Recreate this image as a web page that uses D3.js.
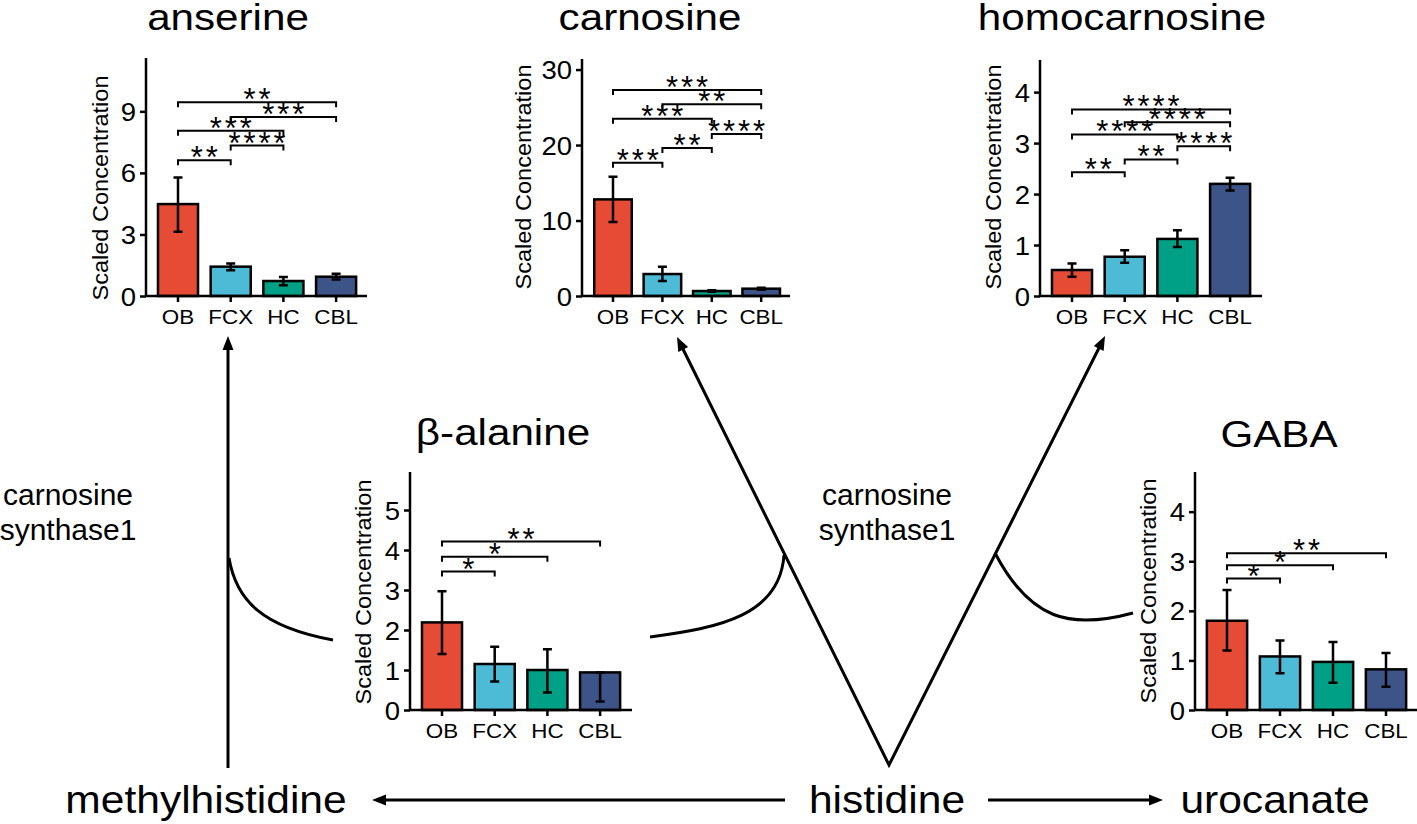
<!DOCTYPE html>
<html><head><meta charset="utf-8">
<script src="https://cdn.jsdelivr.net/npm/d3@7"></script>
<style>
body{margin:0;background:#fff}
svg{display:block}
text{font-family:"Liberation Sans",Arial,Helvetica,sans-serif;fill:#000}
</style>
</head><body>
<svg id="chart" width="1417" height="824"></svg>
<script>
// ---------------- DATA ----------------
const categories = ["OB", "FCX", "HC", "CBL"];
const barColors = ["#E64B35", "#4DBBD5", "#00A087", "#3C5488"];

const anserineMean = [4.48, 1.43, 0.73, 0.94];
const anserineLow  = [3.13, 1.25, 0.53, 0.80];
const anserineHigh = [5.78, 1.59, 0.93, 1.08];
const anserineTicks = [0, 3, 6, 9];
const anserineSig = [["OB","FCX",6.62,"**"],["FCX","HC",7.33,"****"],["OB","HC",8.06,"***"],["FCX","CBL",8.73,"***"],["OB","CBL",9.44,"**"]];

const carnosineMean = [12.8, 2.91, 0.66, 0.97];
const carnosineLow  = [9.8, 1.99, 0.57, 0.82];
const carnosineHigh = [15.8, 3.89, 0.75, 1.1];
const carnosineTicks = [0, 10, 20, 30];
const carnosineSig = [["OB","FCX",17.66,"***"],["FCX","HC",19.6,"**"],["HC","CBL",21.46,"****"],["OB","HC",23.5,"***"],["FCX","CBL",25.4,"**"],["OB","CBL",27.3,"***"]];

const homocarnosineMean = [0.51, 0.77, 1.12, 2.2];
const homocarnosineLow  = [0.38, 0.65, 0.96, 2.07];
const homocarnosineHigh = [0.64, 0.9, 1.29, 2.32];
const homocarnosineTicks = [0, 1, 2, 3, 4];
const homocarnosineSig = [["OB","FCX",2.43,"**"],["FCX","HC",2.68,"**"],["HC","CBL",2.94,"****"],["OB","HC",3.17,"****"],["FCX","CBL",3.41,"****"],["OB","CBL",3.66,"****"]];

const betaAlanineMean = [2.19, 1.15, 1.0, 0.94];
const betaAlanineLow  = [1.4, 0.71, 0.44, 0.21];
const betaAlanineHigh = [2.97, 1.58, 1.52, 0.94];
const betaAlanineTicks = [0, 1, 2, 3, 4, 5];
const betaAlanineSig = [["OB","FCX",3.46,"*"],["OB","HC",3.83,"*"],["OB","CBL",4.21,"**"]];

const gabaMean = [1.8, 1.08, 0.97, 0.82];
const gabaLow  = [1.2, 0.74, 0.55, 0.47];
const gabaHigh = [2.42, 1.4, 1.37, 1.15];
const gabaTicks = [0, 1, 2, 3, 4];
const gabaSig = [["OB","FCX",2.65,"*"],["OB","HC",2.92,"*"],["OB","CBL",3.16,"**"]];

const yAxisLabel = "Scaled Concentration";
const enzymeLabel = ["carnosine", "synthase1"];
const metaboliteLabels = ["methylhistidine", "histidine", "urocanate"];

// ---------------- LAYOUT ----------------
const panels = [
  {title:"anserine", mean:anserineMean, low:anserineLow, high:anserineHigh, ticks:anserineTicks, sig:anserineSig,
   ax:146, axEnd:367, yTop:58, yBase:296, max:11.6, c0:178, step:52.7, tx:228, ty:30, lx:108, ly:188},
  {title:"carnosine", mean:carnosineMean, low:carnosineLow, high:carnosineHigh, ticks:carnosineTicks, sig:carnosineSig,
   ax:582, axEnd:790, yTop:59, yBase:296, max:31.4, c0:613, step:49.4, tx:650, ty:30, lx:531, ly:177},
  {title:"homocarnosine", mean:homocarnosineMean, low:homocarnosineLow, high:homocarnosineHigh, ticks:homocarnosineTicks, sig:homocarnosineSig,
   ax:1040, axEnd:1262, yTop:60, yBase:296, max:4.63, c0:1072, step:52.7, tx:1122, ty:30, lx:1001, ly:177},
  {title:"\u03B2-alanine", mean:betaAlanineMean, low:betaAlanineLow, high:betaAlanineHigh, ticks:betaAlanineTicks, sig:betaAlanineSig,
   ax:410, axEnd:632, yTop:472, yBase:710, max:5.95, c0:442, step:52.7, tx:503, ty:445, lx:371, ly:592},
  {title:"GABA", mean:gabaMean, low:gabaLow, high:gabaHigh, ticks:gabaTicks, sig:gabaSig,
   ax:1195, axEnd:1417, yTop:472, yBase:710, max:4.8, c0:1227, step:53, tx:1279, ty:447, lx:1156, ly:591}
];

const svg = d3.select("#chart");

function txt(g, x, y, s, size, sx, anchor) {
  return g.append("text")
    .attr("transform", `translate(${x},${y}) scale(${sx},1)`)
    .attr("text-anchor", anchor || "middle")
    .attr("font-size", size)
    .text(s);
}

// ---------------- PATHWAY ----------------
const path = svg.append("g").attr("fill", "none").attr("stroke", "#000").attr("stroke-width", 3);

function arrowHead(g, fromX, fromY, tipX, tipY, len, half) {
  const dx = tipX - fromX, dy = tipY - fromY, L = Math.hypot(dx, dy);
  const ux = dx / L, uy = dy / L;
  const bx = tipX - ux * len, by = tipY - uy * len;
  g.append("path")
    .attr("d", `M${tipX},${tipY}L${bx - uy * half},${by + ux * half}L${bx + uy * half},${by - ux * half}Z`)
    .attr("fill", "#000").attr("stroke", "none");
  return [tipX - ux * (len - 2), tipY - uy * (len - 2)];
}
function arrow(g, x1, y1, x2, y2) {
  const e = arrowHead(g, x1, y1, x2, y2, 14, 5.5);
  g.append("path").attr("d", `M${x1},${y1}L${e[0]},${e[1]}`);
}
arrow(path, 228, 768, 228, 336);
arrow(path, 785, 800, 372, 800);
arrow(path, 988, 800, 1163, 800);
{
  const a = arrowHead(path, 889, 765, 677, 337, 14, 5.5);
  const b = arrowHead(path, 889, 765, 1105, 336, 14, 5.5);
  path.append("path").attr("d", `M${a[0]},${a[1]}L889,765L${b[0]},${b[1]}`).attr("stroke-linejoin", "miter");
}
path.append("path").attr("d", "M229,558C236,600 262,627 333,640");
path.append("path").attr("d", "M650,637C720,628 780,615 784,555");
path.append("path").attr("d", "M995,553C1030,620 1070,630 1133,613");

const labels = svg.append("g");
txt(labels, 68, 505, enzymeLabel[0], 30, 1, "middle");
txt(labels, 68, 540, enzymeLabel[1], 30, 1, "middle");
txt(labels, 887, 505, enzymeLabel[0], 30, 1, "middle");
txt(labels, 887, 540, enzymeLabel[1], 30, 1, "middle");
txt(labels, 206, 813, metaboliteLabels[0], 38, 1.12, "middle");
txt(labels, 887, 813, metaboliteLabels[1], 38, 1.12, "middle");
txt(labels, 1275, 813, metaboliteLabels[2], 38, 1.12, "middle");

// ---------------- PANELS ----------------
panels.forEach(p => {
  const g = svg.append("g");
  const x = d3.scaleBand().domain(categories)
    .range([p.c0 - p.step / 2, p.c0 + 3.5 * p.step])
    .paddingInner(0.24).paddingOuter(0.12);
  const y = d3.scaleLinear().domain([0, p.max]).range([p.yBase, p.yTop]);
  const col = d3.scaleOrdinal().domain(categories).range(barColors);
  const cx = c => x(c) + x.bandwidth() / 2;

  txt(g, p.tx, p.ty, p.title, 37, 1.14, "middle");

  // bars
  g.selectAll("rect.bar").data(categories).join("rect")
    .attr("x", c => x(c)).attr("width", x.bandwidth())
    .attr("y", (c, i) => y(p.mean[i])).attr("height", (c, i) => y(0) - y(p.mean[i]))
    .attr("fill", c => col(c)).attr("stroke", "#000").attr("stroke-width", 2.5);

  // error bars
  const eb = g.append("g").attr("stroke", "#000").attr("stroke-width", 2.5).attr("fill", "none");
  categories.forEach((c, i) => {
    const xc = cx(c);
    eb.append("path").attr("d",
      `M${xc},${y(p.low[i])}L${xc},${y(p.high[i])}` +
      `M${xc - 4.5},${y(p.low[i])}L${xc + 4.5},${y(p.low[i])}` +
      `M${xc - 4.5},${y(p.high[i])}L${xc + 4.5},${y(p.high[i])}`);
  });

  // y axis
  const yAx = g.append("g").attr("transform", `translate(${p.ax},0)`)
    .call(d3.axisLeft(y).tickValues(p.ticks).tickSize(6).tickSizeOuter(0).tickPadding(3).tickFormat(d3.format("d")));
  yAx.selectAll("path.domain").attr("stroke-width", 2.5).attr("d", `M0,${p.yBase + 1}V${p.yTop}`);
  yAx.selectAll(".tick line").attr("stroke-width", 2.5);
  yAx.selectAll(".tick text").attr("font-size", 25).attr("font-family", "Liberation Sans, Arial, sans-serif")
    .attr("dy", "0.36em").attr("transform", "scale(1.1,1)");

  // x axis
  const xAx = g.append("g").attr("transform", `translate(0,${p.yBase})`)
    .call(d3.axisBottom(x).tickSize(6).tickSizeOuter(0).tickPadding(5));
  xAx.select("path.domain").remove();
  xAx.append("path").attr("d", `M${p.ax - 1},0H${p.axEnd}`).attr("stroke", "#000").attr("stroke-width", 2.5);
  xAx.selectAll(".tick line").attr("stroke-width", 2.5);
  xAx.selectAll(".tick text").attr("font-size", 20).attr("font-family", "Liberation Sans, Arial, sans-serif")
    .attr("dy", "0.85em").attr("transform", "scale(1.12,1)");

  // y label
  g.append("text")
    .attr("transform", `translate(${p.lx},${p.ly}) rotate(-90)`)
    .attr("text-anchor", "middle").attr("font-size", 22)
    .attr("textLength", 225).attr("lengthAdjust", "spacingAndGlyphs")
    .text(yAxisLabel);

  // significance brackets
  const sg = g.append("g");
  p.sig.forEach(s => {
    const x1 = cx(s[0]), x2 = cx(s[1]), yy = y(s[2]);
    sg.append("path").attr("d", `M${x1},${yy + 5}V${yy}H${x2}V${yy + 5}`)
      .attr("fill", "none").attr("stroke", "#000").attr("stroke-width", 2);
    const n = s[3].length, pitch = 15, mid = (x1 + x2) / 2;
    for (let k = 0; k < n; k++) {
      sg.append("text").attr("x", mid + (k - (n - 1) / 2) * pitch).attr("y", yy + 8)
        .attr("text-anchor", "middle").attr("font-size", 31).text("*");
    }
  });
});
</script>
</body></html>
